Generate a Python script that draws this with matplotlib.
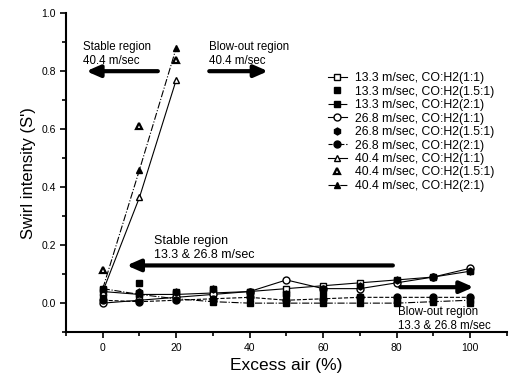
import matplotlib
matplotlib.use('Agg')
import matplotlib.pyplot as plt

plt.rcParams['font.family'] = ['Liberation Sans', 'DejaVu Sans']

# excess air (%)
x_low = [0, 10, 20, 30, 40, 50, 60, 70, 80, 90, 100]
x_high = [0, 10, 20]

# swirl intensity
s13_11 = [0.04, 0.03, 0.03, 0.035, 0.04, 0.05, 0.06, 0.07, 0.08, 0.09, 0.11]
s13_15 = [0.02, 0.07, 0.04, 0.05, 0.04, 0.03, 0.03, 0.02, 0.01, 0.01, 0.00]
s13_21 = [0.05, 0.03, 0.015, 0.005, 0.0, 0.0, 0.0, 0.0, 0.0, 0.005, 0.01]
s26_11 = [0.0, 0.01, 0.02, 0.03, 0.04, 0.08, 0.05, 0.05, 0.07, 0.09, 0.12]
s26_15 = [0.05, 0.04, 0.04, 0.05, 0.04, 0.03, 0.05, 0.06, 0.08, 0.09, 0.11]
s26_21 = [0.01, 0.005, 0.01, 0.015, 0.02, 0.01, 0.015, 0.02, 0.02, 0.02, 0.02]
s40_11 = [0.04, 0.365, 0.77]
s40_15 = [0.115, 0.61, 0.84]
s40_21 = [0.05, 0.46, 0.88]

labels = ['13.3 m/sec, CO:H2(1:1)', '13.3 m/sec, CO:H2(1.5:1)', '13.3 m/sec, CO:H2(2:1)',
          '26.8 m/sec, CO:H2(1:1)', '26.8 m/sec, CO:H2(1.5:1)', '26.8 m/sec, CO:H2(2:1)',
          '40.4 m/sec, CO:H2(1:1)', '40.4 m/sec, CO:H2(1.5:1)', '40.4 m/sec, CO:H2(2:1)']

fig = plt.figure(figsize=(5.16, 3.88), dpi=100)
ax = fig.add_axes([0.128, 0.144, 0.854, 0.822])

lw = 0.8
ms = 5
ax.plot(x_low, s13_11, '-', color='k', lw=lw, marker='s', ms=ms, mfc='white', mec='k', label=labels[0])
ax.plot(x_low, s13_15, ' ', color='k', marker='s', ms=ms, label=labels[1])
ax.plot(x_low, s13_21, '-.', color='k', lw=lw, marker='s', ms=ms, label=labels[2])
ax.plot(x_low, s26_11, '-', color='k', lw=lw, marker='o', ms=ms, mfc='white', mec='k', label=labels[3])
ax.plot(x_low, s26_15, ' ', color='k', marker='h', ms=ms, label=labels[4])
ax.plot(x_low, s26_21, '--', color='k', lw=lw, marker='o', ms=ms, label=labels[5])
ax.plot(x_high, s40_11, '-', color='k', lw=lw, marker='^', ms=ms, mfc='white', mec='k', label=labels[6])
ax.plot(x_high, s40_15, ' ', color='k', marker='^', ms=ms, mfc='white', mec='k', mew=1.6, label=labels[7])
ax.plot(x_high, s40_21, '-.', color='k', lw=lw, marker='^', ms=ms, label=labels[8])

# region arrows
arr = dict(arrowstyle='-|>,head_length=0.8,head_width=0.35', color='k', lw=3, shrinkA=0, shrinkB=0)
ax.annotate('', xy=(-4.5, 0.8), xytext=(15, 0.8), arrowprops=arr)
ax.annotate('', xy=(45, 0.8), xytext=(29, 0.8), arrowprops=arr)
ax.annotate('', xy=(6.5, 0.13), xytext=(79, 0.13), arrowprops=arr)
ax.annotate('', xy=(101, 0.055), xytext=(81, 0.055), arrowprops=arr)

ax.text(-5.5, 0.86, 'Stable region\n40.4 m/sec', fontsize=8.3, va='center', linespacing=1.2)
ax.text(29, 0.86, 'Blow-out region\n40.4 m/sec', fontsize=8.3, va='center', linespacing=1.2)
ax.text(14, 0.19, 'Stable region\n13.3 & 26.8 m/sec', fontsize=9, va='center', linespacing=1.2)
ax.text(80.5, -0.055, 'Blow-out region\n13.3 & 26.8 m/sec', fontsize=8.3, va='center', linespacing=1.2)

ax.set_xlim(-10, 110)
ax.set_ylim(-0.1, 1.0)
ax.set_xticks([0, 20, 40, 60, 80, 100])
ax.set_xticks(range(-10, 111, 10), minor=True)
ax.set_yticks([0.0, 0.2, 0.4, 0.6, 0.8, 1.0])
ax.set_yticks([-0.1, 0.1, 0.3, 0.5, 0.7, 0.9], minor=True)
ax.set_yticklabels(['0.0', '0.2', '0.4', '0.6', '0.8', '1.0'])
ax.tick_params(which='both', direction='out', width=1.2, labelsize=7.5)
ax.tick_params(which='major', length=4)
ax.tick_params(which='minor', length=3)
for side in ['top', 'right']:
    ax.spines[side].set_visible(False)
for side in ['left', 'bottom']:
    ax.spines[side].set_linewidth(1.5)

ax.set_xlabel('Excess air (%)', fontsize=12.5)
ax.set_ylabel("Swirl intensity (S')", fontsize=12)

fig.legend(loc='upper left', bbox_to_anchor=(0.635, 0.814), frameon=False, fontsize=8.8,
           labelspacing=0.12, handlelength=1.6, handletextpad=0.6, borderpad=0, borderaxespad=0)

fig.savefig('out.png', dpi=100)
